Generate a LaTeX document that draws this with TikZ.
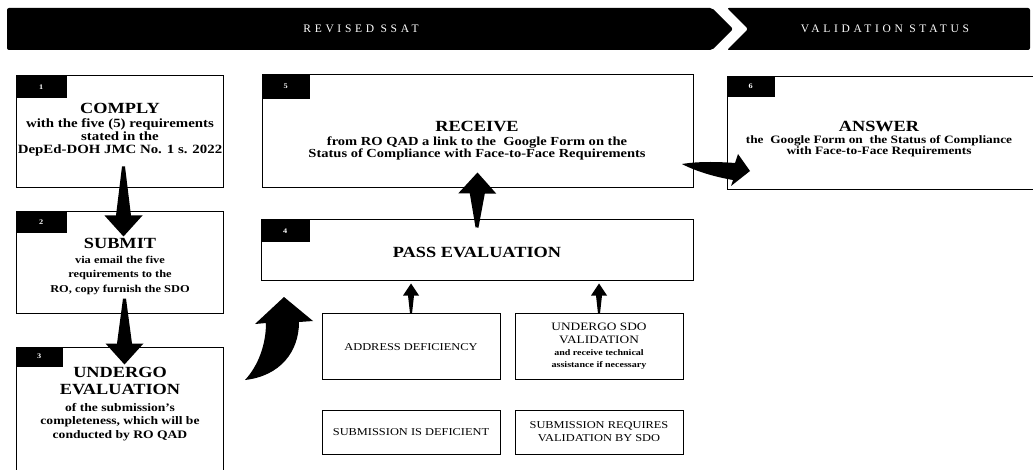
\documentclass[tikz,border=0pt]{standalone}
\usepackage{fontspec}
\setmainfont{Liberation Serif}[FakeStretch=1.18]
\newfontfamily\bannerfont{Liberation Serif}[LetterSpace=32]
\usetikzlibrary{calc}

\tikzset{
  box/.style={draw=black, line width=1pt, inner sep=0pt, fill=white},
  tab/.style={fill=black, text=white, anchor=north west, inner sep=0pt,
    font=\fontsize{7}{8}\selectfont\bfseries, minimum width=50pt, minimum height=21pt},
  heading/.style={inner sep=0pt, align=center, font=\fontsize{15.5}{17}\selectfont\bfseries},
  bodytxt/.style 2 args={inner sep=0pt, align=center, font=\fontsize{#1}{#2}\selectfont\bfseries},
  plaintxt/.style 2 args={inner sep=0pt, align=center, font=\fontsize{#1}{#2}\selectfont},
  banner/.style={inner sep=0pt, text=white, font=\bannerfont\fontsize{11.5}{13}\selectfont},
  % tapered block arrow: tail width, neck width, head width, head length
  fatarrow/.style n args={4}{to path={
      let \p1=(\tikztostart), \p2=(\tikztotarget),
          \n1={atan2(\y2-\y1,\x2-\x1)}
      in
      ($(\p1)+(\n1+90:#1/2)$)
      -- ($(\p2)+(\n1+180:#4)+(\n1+90:#2/2)$)
      -- ($(\p2)+(\n1+180:#4)+(\n1+90:#3/2)$)
      -- (\p2)
      -- ($(\p2)+(\n1+180:#4)+(\n1-90:#3/2)$)
      -- ($(\p2)+(\n1+180:#4)+(\n1-90:#2/2)$)
      -- ($(\p1)+(\n1-90:#1/2)$)
      -- cycle}},
  bigarrow/.style={fatarrow={3pt}{15pt}{38pt}{21pt}},
  smallarrow/.style={fatarrow={2pt}{6pt}{16pt}{12pt}},
}

\begin{document}
\begin{tikzpicture}[x=1pt,y=-1pt]
\fill[white] (0,0) rectangle (1033,470);
\clip (0,0) rectangle (1033,470);

% ---- banner ----
\fill[black, rounded corners=2pt] (7,8) -- (712,8) -- (733,29) -- (712,50) -- (7,50) -- cycle;
\fill[black, rounded corners=2pt] (727,8) -- (1030,8) -- (1030,50) -- (727,50) -- (748,29) -- cycle;
\node[banner] (ban1) at (361,29) {REVISED SSAT};
\node[banner] (ban2) at (885,29) {VALIDATION STATUS};

% ---- left column ----
\node[box, minimum width=207pt, minimum height=112pt] (b1) at (119.5,132) {};
\node[box, minimum width=207pt, minimum height=101pt] (b2) at (119.5,262.5) {};
\node[box, minimum width=207pt, minimum height=133pt] (b3) at (119.5,413.5) {};
\node[tab, minimum width=51pt, minimum height=22pt] (t1) at (b1.north west) {1};
\node[tab, minimum width=51pt, minimum height=21pt] (t2) at (b2.north west) {2};
\node[tab, minimum width=47pt, minimum height=20pt] (t3) at (b3.north west) {3};

\node[heading] (h1) at (120,108) {COMPLY};
\node[bodytxt={12.6}{13}] (d1) at (120,137.5) {with the five (5) requirements\\stated in the\\DepEd-DOH JMC No. 1 s. 2022};

\node[heading] (h2) at (120,243) {SUBMIT};
\node[bodytxt={10.5}{14.5}] (d2) at (120,275) {via email the five\\requirements to the\\RO, copy furnish the SDO};

\node[heading] (h3) at (120,381) {UNDERGO\\EVALUATION};
\node[bodytxt={11.5}{13.5}] (d3) at (120,422) {of the submission's\\completeness, which will be\\conducted by RO QAD};

% ---- middle column ----
\node[box, minimum width=431pt, minimum height=113pt] (b5) at (477.5,131.5) {};
\node[tab, minimum width=48pt, minimum height=24pt] (t5) at (b5.north west) {5};
\node[heading] (h5) at (477,126) {RECEIVE};
\node[bodytxt={12.3}{11.5}] (d5) at (477,148.5) {from RO QAD a link to the\ \ Google Form on the\\Status of Compliance with Face-to-Face Requirements};

\node[box, minimum width=432pt, minimum height=61pt] (b4) at (477,250.5) {};
\node[tab, minimum width=49pt, minimum height=22pt] (t4) at (b4.north west) {4};
\node[heading] (h4) at (477,252) {PASS EVALUATION};

\node[box, minimum width=178pt, minimum height=66pt] (ad) at (411,346) {};
\node[plaintxt={10.5}{12}] (adt) at (411,347) {ADDRESS DEFICIENCY};
\node[box, minimum width=168pt, minimum height=66pt] (sv) at (599,346) {};
\node[plaintxt={11.3}{12.5}] (svt) at (599,333.5) {UNDERGO SDO\\VALIDATION};
\node[bodytxt={8.5}{12}] (svd) at (599,359.5) {and receive technical\\assistance if necessary};

\node[box, minimum width=178pt, minimum height=44pt] (sd) at (411,432) {};
\node[plaintxt={10.5}{12}] (sdt) at (411,432) {SUBMISSION IS DEFICIENT};
\node[box, minimum width=168pt, minimum height=44pt] (sr) at (599,432) {};
\node[plaintxt={10.5}{12.5}] (srt) at (599,431.5) {SUBMISSION REQUIRES\\VALIDATION BY SDO};

% ---- right column ----
\node[box, minimum width=313pt, minimum height=113pt] (b6) at (883.5,133.5) {};
\node[tab, minimum width=48pt, minimum height=20pt] (t6) at (b6.north west) {6};
\node[heading] (h6) at (879,126) {ANSWER};
\node[bodytxt={11.3}{11}] (d6) at (879,146.5) {the\ \ Google Form on\ \ the Status of Compliance\\with Face-to-Face Requirements};

% ---- block arrows ----
\fill ([xshift=4pt,yshift=22pt]b1.south) to[bigarrow] ([xshift=4pt,yshift=-25pt]b2.north);
\fill ([xshift=5pt,yshift=15pt]b2.south) to[bigarrow] ([xshift=5pt,yshift=-18pt]b3.north);
\fill ([yshift=-8pt]b4.north) to[bigarrow] ([yshift=16pt]b5.south);
\fill ([yshift=-1pt]ad.north) to[smallarrow] ([yshift=-2pt]ad.north |- b4.south);
\fill ([yshift=-1pt]sv.north) to[smallarrow] ([yshift=-2pt]sv.north |- b4.south);

% ---- curved arrows ----
\coordinate (ca1) at (245,380);
\fill (ca1) .. controls (258,366) and (266,345) .. (266,323) -- (255,324) -- (284,297)
  -- (313,321) -- (299,322) .. controls (299,352) and (280,376) .. (ca1) -- cycle;
\coordinate (ca2) at (682,164);
\fill (ca2) .. controls (700,161) and (722,162) .. (735,163) -- (738,154) -- (750,171)
  -- (731,186) -- (733,180) .. controls (715,177) and (695,171) .. (ca2) -- cycle;
\end{tikzpicture}
\end{document}
